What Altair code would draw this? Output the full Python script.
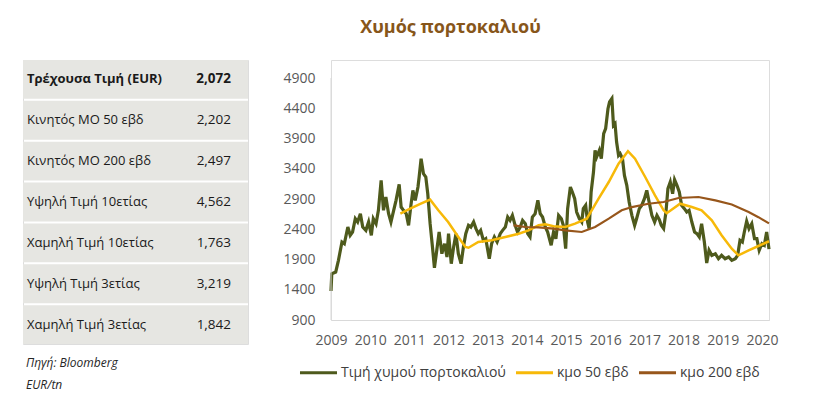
import altair as alt
import pandas as pd

title_text = "Χυμός πορτοκαλιού"

row_labels = [
    "Τρέχουσα Τιμή (EUR)",
    "Κινητός ΜΟ 50 εβδ",
    "Κινητός ΜΟ 200 εβδ",
    "Υψηλή Τιμή 10ετίας",
    "Χαμηλή Τιμή 10ετίας",
    "Υψηλή Τιμή 3ετίας",
    "Χαμηλή Τιμή 3ετίας",
]
row_values = ["2,072", "2,202", "2,497", "4,562", "1,763", "3,219", "1,842"]
source_note = ["Πηγή: Bloomberg", "EUR/tn"]

series_names = ["Τιμή χυμού πορτοκαλιού", "κμο 50 εβδ", "κμο 200 εβδ"]
series_colors = ["#4E5A1C", "#F7B908", "#97561B"]

year_ticks = list(range(2009, 2021))
value_ticks = [900, 1400, 1900, 2400, 2900, 3400, 3900, 4400, 4900]

price_years = [
    2009.00, 2009.02, 2009.12, 2009.19, 2009.28, 2009.34, 2009.43, 2009.49, 2009.55, 2009.62,
    2009.68, 2009.75, 2009.81, 2009.89, 2009.96, 2010.03, 2010.08, 2010.15, 2010.21, 2010.28,
    2010.34, 2010.40, 2010.47, 2010.53, 2010.60, 2010.66, 2010.74, 2010.79, 2010.85, 2010.92,
    2010.98, 2011.04, 2011.09, 2011.15, 2011.22, 2011.25, 2011.30, 2011.36, 2011.42, 2011.47,
    2011.53, 2011.59, 2011.64, 2011.70, 2011.76, 2011.83, 2011.90, 2011.96, 2012.00, 2012.07,
    2012.13, 2012.19, 2012.25, 2012.32, 2012.38, 2012.44, 2012.51, 2012.57, 2012.64, 2012.70,
    2012.76, 2012.82, 2012.89, 2012.95, 2013.04, 2013.10, 2013.17, 2013.24, 2013.32, 2013.38,
    2013.45, 2013.51, 2013.57, 2013.63, 2013.70, 2013.76, 2013.83, 2013.89, 2013.96, 2014.02,
    2014.08, 2014.14, 2014.21, 2014.28, 2014.34, 2014.40, 2014.47, 2014.53, 2014.62, 2014.68,
    2014.74, 2014.81, 2014.88, 2014.93, 2014.99, 2015.04, 2015.11, 2015.16, 2015.22, 2015.27,
    2015.34, 2015.40, 2015.44, 2015.50, 2015.55, 2015.59, 2015.64, 2015.70, 2015.74, 2015.78,
    2015.85, 2015.90, 2015.96, 2016.01, 2016.07, 2016.11, 2016.17, 2016.21, 2016.25, 2016.29,
    2016.34, 2016.38, 2016.44, 2016.49, 2016.55, 2016.61, 2016.68, 2016.75, 2016.80, 2016.87,
    2016.93, 2017.00, 2017.06, 2017.12, 2017.19, 2017.26, 2017.32, 2017.38, 2017.43, 2017.49,
    2017.55, 2017.60, 2017.66, 2017.72, 2017.77, 2017.83, 2017.89, 2017.95, 2018.02, 2018.08,
    2018.14, 2018.21, 2018.28, 2018.34, 2018.40, 2018.46, 2018.53, 2018.59, 2018.65, 2018.72,
    2018.81, 2018.89, 2018.97, 2019.06, 2019.15, 2019.23, 2019.32, 2019.38, 2019.44, 2019.50,
    2019.55, 2019.61, 2019.67, 2019.74, 2019.81, 2019.87, 2019.93, 2020.00, 2020.06, 2020.12,
    2020.18,
]
price_values = [
    1380, 1665, 1693, 1887, 2189, 2161, 2437, 2300, 2355, 2575,
    2520, 2657, 2437, 2382, 2520, 2300, 2575, 2492, 2713, 3209,
    2713, 2933, 2657, 2520, 2713, 2878, 3143, 2767, 2713, 2657,
    2465, 2795, 3043, 2878, 3098, 3264, 3566, 3318, 3264, 2987,
    2492, 2107, 1763, 2052, 2355, 1996, 2161, 1941, 2327, 1831,
    2107, 2327, 1996, 1831, 2107, 2327, 2465, 2437, 2520, 2410,
    2327, 2382, 2217, 2244, 1913, 2161, 2272, 2189, 2327, 2382,
    2437, 2602, 2547, 2630, 2465, 2355, 2437, 2547, 2492, 2327,
    2272, 2602, 2657, 2878, 2657, 2602, 2437, 2355, 2135, 2355,
    2244, 2630, 2575, 2465, 2079, 2740, 3098, 3016, 2905, 2685,
    2575, 2520, 2740, 2795, 2520, 2410, 3016, 3346, 3705, 3594,
    3705, 3566, 3980, 4063, 4393, 4504, 4562, 4118, 4146, 3842,
    3622, 3650, 3566, 3291, 3126, 2850, 2630, 2465, 2575, 2740,
    2795, 2905, 3043, 2850, 2630, 2520, 2630, 2560, 2465, 2410,
    2685, 3071, 3181, 2987, 3219, 3126, 3016, 2795, 2740, 2685,
    2713, 2520, 2355, 2327, 2272, 2492, 2189, 1842, 2052, 1969,
    1996, 1913, 1969, 1913, 1941, 1886, 1913, 1969, 2217, 2189,
    2355, 2532, 2410, 2492, 2244, 2244, 2052, 2161, 2135, 2355,
    2072,
]

ma50_years = [
    2010.77, 2011.02, 2011.28, 2011.53, 2011.74, 2011.99, 2012.25, 2012.43, 2012.51, 2012.76,
    2013.10, 2013.45, 2013.79, 2014.04, 2014.30, 2014.47, 2014.68, 2014.98, 2015.23, 2015.53,
    2015.83, 2016.09, 2016.34, 2016.58, 2016.76, 2017.02, 2017.27, 2017.49, 2017.57, 2017.91,
    2018.21, 2018.46, 2018.72, 2018.97, 2019.23, 2019.40, 2019.66, 2019.91, 2020.18,
]
ma50_values = [
    2660, 2740, 2820, 2890, 2713, 2520, 2272, 2107, 2095, 2190,
    2217, 2272, 2327, 2382, 2465, 2482, 2450, 2437, 2492, 2575,
    2905, 3181, 3484, 3690, 3566, 3264, 2961, 2713, 2665, 2822,
    2767, 2713, 2547, 2300, 2079, 1969, 2052, 2123, 2202,
]

ma200_years = [
    2013.66, 2013.96, 2014.30, 2014.68, 2014.98, 2015.40, 2015.74, 2016.09, 2016.42, 2016.68,
    2017.10, 2017.49, 2017.87, 2018.38, 2018.81, 2019.23, 2019.66, 2019.91, 2020.18,
]
ma200_values = [
    2465, 2437, 2430, 2410, 2382, 2355, 2437, 2575, 2713, 2767,
    2822, 2850, 2917, 2933, 2878, 2810, 2685, 2600, 2497,
]

FONT = "Open Sans"

# ---------------- table panel ----------------
table_df = pd.DataFrame({
    "row": list(range(len(row_labels))),
    "label": row_labels,
    "value": row_values,
})

ty = alt.Y("row:O", axis=None, scale=alt.Scale(paddingInner=0.05, paddingOuter=0))
tx_scale = alt.Scale(domain=[0, 1])

t_base = alt.Chart(table_df)
t_bg = t_base.mark_rect(color="#E6E6E2").encode(
    y=ty,
    x=alt.X(datum=0, scale=tx_scale, axis=None),
    x2=alt.X2(datum=1),
)
t_lab = t_base.transform_filter("datum.row > 0").mark_text(
    align="left", baseline="middle", dx=4, fontSize=13, color="#1A1A1A", font=FONT
).encode(y=ty, x=alt.X(datum=0, scale=tx_scale, axis=None), text="label:N")
t_lab_b = t_base.transform_filter("datum.row == 0").mark_text(
    align="left", baseline="middle", dx=4, fontSize=13, fontWeight="bold", color="#1A1A1A", font=FONT
).encode(y=ty, x=alt.X(datum=0, scale=tx_scale, axis=None), text="label:N")
t_val = t_base.transform_filter("datum.row > 0").mark_text(
    align="right", baseline="middle", dx=-17, fontSize=13.5, color="#1A1A1A", font=FONT
).encode(y=ty, x=alt.X(datum=1, scale=tx_scale, axis=None), text="value:N")
t_val_b = t_base.transform_filter("datum.row == 0").mark_text(
    align="right", baseline="middle", dx=-17, fontSize=13.5, fontWeight="bold", color="#1A1A1A", font=FONT
).encode(y=ty, x=alt.X(datum=1, scale=tx_scale, axis=None), text="value:N")

table = alt.layer(t_bg, t_lab, t_lab_b, t_val, t_val_b).properties(
    width=225,
    height=284,
    title=alt.TitleParams(
        text=source_note, orient="bottom", anchor="start", fontStyle="italic",
        fontWeight="normal", fontSize=12, color="#262626", lineHeight=22, offset=14,
        dx=3, font=FONT,
    ),
)

# ---------------- line panel ----------------
frames = [
    pd.DataFrame({"year": price_years, "value": price_values, "series": series_names[0]}),
    pd.DataFrame({"year": ma50_years, "value": ma50_values, "series": series_names[1]}),
    pd.DataFrame({"year": ma200_years, "value": ma200_values, "series": series_names[2]}),
]
df = pd.concat(frames, ignore_index=True)

x_scale = alt.Scale(domain=[2009, 2020.18], nice=False, zero=False)
y_scale = alt.Scale(domain=[900, 5198], nice=False, zero=False)
x_axis = alt.Axis(
    values=year_ticks, format="d", title=None, grid=False, ticks=False, tickSize=0,
    labelPadding=13, labelFlush=False, labelOverlap=False, domainColor="#D9D9D9",
    labelFontSize=14, labelColor="#595959", labelFont=FONT,
)
y_axis = alt.Axis(
    values=value_ticks, title=None, grid=False, ticks=False, tickSize=0, domain=False,
    labelPadding=16, labelFontSize=14, labelColor="#595959", labelFont=FONT, format="d",
    labelOverlap=False,
)

x_enc = alt.X("year:Q", scale=x_scale, axis=x_axis)
y_enc = alt.Y("value:Q", scale=y_scale, axis=y_axis)
color_enc = alt.Color(
    "series:N",
    scale=alt.Scale(domain=series_names, range=series_colors),
    legend=alt.Legend(
        title=None, orient="none", direction="horizontal", legendX=275, legendY=292,
        symbolType="stroke", symbolSize=1370, symbolStrokeWidth=3, labelFontSize=14,
        labelColor="#404040", labelFont=FONT, labelOffset=2, columnPadding=3,
        padding=0, labelLimit=0,
    ),
)

base = alt.Chart(df).encode(x=x_enc, y=y_enc, color=color_enc)
l_price = base.transform_filter(alt.datum.series == series_names[0]).mark_line(strokeWidth=3.2)
l_50 = base.transform_filter(alt.datum.series == series_names[1]).mark_line(strokeWidth=2.5)
l_200 = base.transform_filter(alt.datum.series == series_names[2]).mark_line(strokeWidth=2.2)

y_rule = alt.Chart(pd.DataFrame({"k": [0]})).mark_rule(color="#D9D9D9", strokeWidth=1).encode(
    x=alt.X(datum=2009, type="quantitative", scale=x_scale, axis=x_axis),
    y=alt.Y(datum=900, type="quantitative", scale=y_scale, axis=y_axis),
    y2=alt.Y2(datum=4900),
)

lines = alt.layer(l_price, l_50, l_200, y_rule).properties(width=438, height=260)

chart = alt.hconcat(table, lines, spacing=33).properties(
    title=alt.TitleParams(
        text=title_text, anchor="middle", dx=50, fontSize=18, fontWeight="bold",
        color="#87561A", font=FONT, offset=23,
    ),
    padding={"left": 14, "top": 10, "right": 0, "bottom": 0},
).configure_view(stroke=None).configure(font=FONT)

chart.save("out.html", embed_options={"renderer": "svg", "actions": False})
